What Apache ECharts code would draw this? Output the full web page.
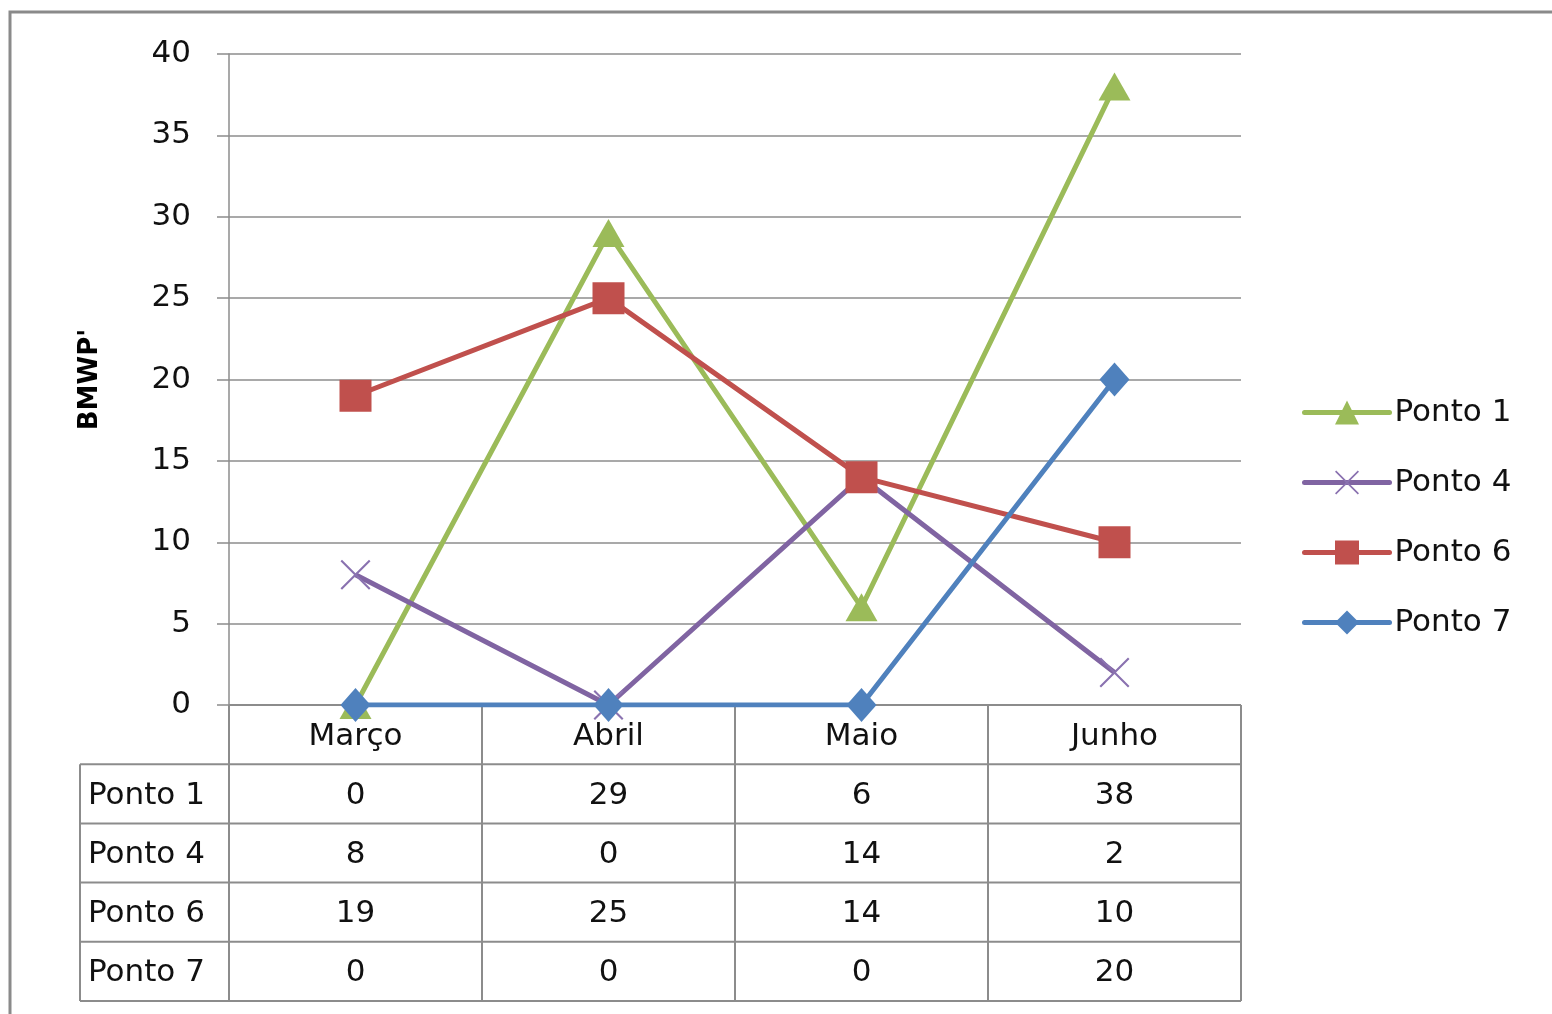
<!DOCTYPE html>
<html>
<head>
<meta charset="UTF-8">
<title>BMWP'</title>
<script src="https://cdn.jsdelivr.net/npm/echarts@6/dist/echarts.min.js"></script>
<style>
  html, body { margin: 0; padding: 0; background: #fff; }
  #chart { width: 1552px; height: 1014px; }
</style>
</head>
<body>
<div id="chart"></div>
<script>
// dados
var meses = ['Março', 'Abril', 'Maio', 'Junho'];
var ponto1 = [0, 29, 6, 38];
var ponto4 = [8, 0, 14, 2];
var ponto6 = [19, 25, 14, 10];
var ponto7 = [0, 0, 0, 20];
var nomes = ['Ponto 1', 'Ponto 4', 'Ponto 6', 'Ponto 7'];
var yTicks = [0, 5, 10, 15, 20, 25, 30, 35, 40];

var fonte = '"DejaVu Sans", sans-serif';
var tam = 31;
var cinza = '#8c8c8c';
var xis = 'path://M0,1L1,0L10,9L19,0L20,1L11,10L20,19L19,20L10,11L1,20L0,19L9,10Z';

var chart = echarts.init(document.getElementById('chart'));

var option = {
  animation: false,
  grid: { left: 229, top: 54, width: 1012, height: 651 },
  legend: {
    orient: 'vertical',
    left: 1302,
    top: 397,
    padding: 0,
    itemWidth: 85,
    itemHeight: 30,
    itemGap: 39,
    lineStyle: { width: 5, cap: 'round' },
    textStyle: { fontFamily: fonte, fontSize: tam, color: '#111', lineHeight: 30, padding: [0, 0, 0, 0] },
    data: nomes
  },
  xAxis: {
    type: 'category',
    data: meses,
    boundaryGap: true,
    axisLine: { show: false },
    axisTick: { show: false },
    axisLabel: { show: false }
  },
  yAxis: {
    type: 'value',
    min: 0,
    max: 40,
    interval: 5,
    name: "BMWP'",
    nameLocation: 'middle',
    nameGap: 126,
    nameTextStyle: { fontFamily: fonte, fontSize: 26, fontWeight: 'bold', color: '#000' },
    axisLine: { show: true, lineStyle: { color: cinza, width: 1.5 } },
    axisTick: { show: true, length: 12, lineStyle: { color: cinza, width: 1.5 } },
    axisLabel: {
      margin: 38, fontFamily: fonte, fontSize: tam, color: '#111', padding: [6, 0, 0, 0],
      formatter: function (v) { return yTicks.indexOf(v) >= 0 ? String(v) : ''; }
    },
    splitLine: { show: true, lineStyle: { color: cinza, width: 1.5 } }
  },
  series: [
    { name: 'Ponto 1', type: 'line', data: ponto1, symbol: 'triangle', symbolSize: [32, 28],
      lineStyle: { color: '#9BBB59', width: 5 }, itemStyle: { color: '#9BBB59' } },
    { name: 'Ponto 4', type: 'line', data: ponto4, symbol: xis, symbolSize: 30,
      lineStyle: { color: '#8064A2', width: 5 }, itemStyle: { color: '#8a72b0' } },
    { name: 'Ponto 6', type: 'line', data: ponto6, symbol: 'rect', symbolSize: 32,
      lineStyle: { color: '#C0504D', width: 5 }, itemStyle: { color: '#C0504D' } },
    { name: 'Ponto 7', type: 'line', data: ponto7, symbol: 'diamond', symbolSize: [30, 34],
      lineStyle: { color: '#4F81BD', width: 5 }, itemStyle: { color: '#4F81BD' } }
  ]
};
chart.setOption(option);

// tabela de dados abaixo do grafico
var linhas = [ponto1, ponto4, ponto6, ponto7];
var gLeft = 229, gRight = 1241, gBottom = 705;
var rowH = 59.2, tabLeft = 80;
var bandW = (gRight - gLeft) / meses.length;
var els = [];
var traco = { stroke: cinza, lineWidth: 2 };

// moldura externa
els.push({ type: 'rect', shape: { x: 10, y: 12, width: 1600, height: 1100 },
  style: { fill: 'none', stroke: '#8a8a8a', lineWidth: 3 } });

var fundo = gBottom + rowH * (linhas.length + 1);
// verticais
els.push({ type: 'line', shape: { x1: tabLeft, y1: gBottom + rowH, x2: tabLeft, y2: fundo }, style: traco });
for (var c = 0; c <= meses.length; c++) {
  var x = gLeft + bandW * c;
  els.push({ type: 'line', shape: { x1: x, y1: gBottom, x2: x, y2: fundo }, style: traco });
}
// horizontais
els.push({ type: 'line', shape: { x1: gLeft, y1: gBottom, x2: gRight, y2: gBottom }, style: traco });
for (var r = 1; r <= linhas.length + 1; r++) {
  var y = gBottom + rowH * r;
  els.push({ type: 'line', shape: { x1: tabLeft, y1: y, x2: gRight, y2: y }, style: traco });
}
var txt = { fontFamily: fonte, fontSize: tam, fill: '#111', textVerticalAlign: 'middle' };
meses.forEach(function (m, i) {
  var cx = chart.convertToPixel({ xAxisIndex: 0 }, m);
  els.push({ type: 'text', x: cx, y: gBottom + rowH / 2 + 2,
    style: Object.assign({ text: m, textAlign: 'center' }, txt) });
});
linhas.forEach(function (serie, r) {
  var cy = gBottom + rowH * (r + 1.5) + 2;
  els.push({ type: 'text', x: tabLeft + 8, y: cy,
    style: Object.assign({ text: nomes[r], textAlign: 'left' }, txt) });
  serie.forEach(function (v, i) {
    var cx = chart.convertToPixel({ xAxisIndex: 0 }, meses[i]);
    els.push({ type: 'text', x: cx, y: cy,
      style: Object.assign({ text: String(v), textAlign: 'center' }, txt) });
  });
});
chart.setOption({ graphic: { elements: els } });
</script>
</body>
</html>
